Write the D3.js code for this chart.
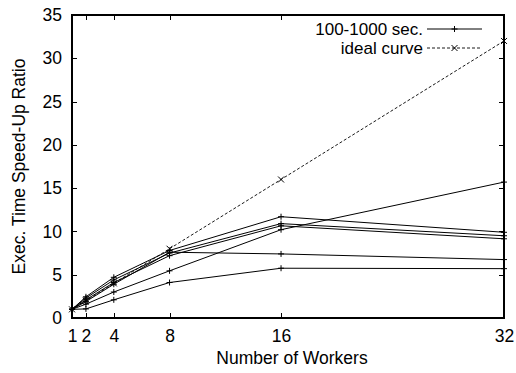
<!DOCTYPE html>
<html>
<head>
<meta charset="utf-8">
<script src="https://cdn.jsdelivr.net/npm/d3@7"></script>
<style>
  html, body { margin: 0; padding: 0; background: #fff; }
  svg { display: block; }
  text { font-family: "Liberation Sans", Arial, Helvetica, sans-serif; fill: #000; }
</style>
</head>
<body>
<svg id="chart" width="516" height="373"></svg>
<script>
// Number of workers on the x axis
const workers = [1, 2, 4, 8, 16, 32];
const xTicks = [1, 2, 4, 8, 16, 32];
const yTicks = [0, 5, 10, 15, 20, 25, 30, 35];

// Measured speed-up ratios, one array per run (100-1000 sec. jobs)
const run1 = [1, 2.45, 4.7, 7.8, 11.7, 9.9];
const run2 = [1, 2.3, 4.4, 7.5, 10.9, 9.5];
const run3 = [1, 2.1, 4.1, 7.2, 10.65, 9.15];
const run4 = [1, 1.9, 3.9, 7.6, 7.4, 6.75];
const run5 = [1, 1.6, 3.0, 5.45, 10.2, 15.7];
const run6 = [1, 1.05, 2.1, 4.1, 5.75, 5.7];
const runs = [run1, run2, run3, run4, run5, run6];

// Ideal (linear) speed-up
const ideal = [1, 2, 4, 8, 16, 32];

const legendLabels = ["100-1000 sec.", "ideal curve"];
const xTitle = "Number of Workers";
const yTitle = "Exec. Time Speed-Up Ratio";

const svg = d3.select("#chart");
const plotLeft = 72, plotRight = 504, plotTop = 15, plotBottom = 318;

const x = d3.scaleLinear().domain([1, 32]).range([plotLeft, plotRight]);
const y = d3.scaleLinear().domain([0, 35]).range([plotBottom, plotTop]);

const fontSize = 17.5;

// Axes with inward ticks (labels on bottom/left, mirrored ticks on top/right)
const gx = svg.append("g").attr("transform", `translate(0,${plotBottom})`)
  .call(d3.axisBottom(x).tickValues(xTicks).tickFormat(d3.format("d")).tickSize(-5).tickPadding(12));
const gy = svg.append("g").attr("transform", `translate(${plotLeft},0)`)
  .call(d3.axisLeft(y).tickValues(yTicks).tickFormat(d3.format("d")).tickSize(-5).tickPadding(10));
const gxt = svg.append("g").attr("transform", `translate(0,${plotTop})`)
  .call(d3.axisTop(x).tickValues(xTicks).tickFormat("").tickSize(-5));
const gyr = svg.append("g").attr("transform", `translate(${plotRight},0)`)
  .call(d3.axisRight(y).tickValues(yTicks).tickFormat("").tickSize(-5));

[gx, gy, gxt, gyr].forEach(g => {
  g.select(".domain").remove();
  g.selectAll(".tick line").attr("stroke", "#000").attr("stroke-width", 1).attr("shape-rendering", "crispEdges");
  g.selectAll(".tick text").attr("font-size", fontSize).attr("font-family", "Liberation Sans, Arial, sans-serif").attr("fill", "#000");
});

// Plot frame
svg.append("rect")
  .attr("x", plotLeft).attr("y", plotTop)
  .attr("width", plotRight - plotLeft).attr("height", plotBottom - plotTop)
  .attr("fill", "none").attr("stroke", "#000").attr("stroke-width", 1.2)
  .attr("shape-rendering", "crispEdges");

const line = d3.line().x((d, i) => x(workers[i])).y(d => y(d));

// Ideal curve: dashed with x markers
svg.append("path").datum(ideal)
  .attr("d", line).attr("fill", "none").attr("stroke", "#000")
  .attr("stroke-width", 0.9).attr("stroke-dasharray", "3,2");

const ms = 3;
function plusMarker(g, cx, cy) {
  g.append("path")
    .attr("d", `M${cx - ms},${cy}H${cx + ms}M${cx},${cy - ms}V${cy + ms}`)
    .attr("stroke", "#000").attr("stroke-width", 1).attr("fill", "none");
}
function crossMarker(g, cx, cy) {
  g.append("path")
    .attr("d", `M${cx - ms},${cy - ms}L${cx + ms},${cy + ms}M${cx - ms},${cy + ms}L${cx + ms},${cy - ms}`)
    .attr("stroke", "#000").attr("stroke-width", 1).attr("fill", "none");
}

const idealMarks = svg.append("g");
ideal.forEach((v, i) => crossMarker(idealMarks, x(workers[i]), y(v)));

// Measured runs: solid with + markers
runs.forEach(r => {
  svg.append("path").datum(r)
    .attr("d", line).attr("fill", "none").attr("stroke", "#000").attr("stroke-width", 1);
  const g = svg.append("g");
  r.forEach((v, i) => plusMarker(g, x(workers[i]), y(v)));
});

// Legend (keys stacked in the top-right corner)
const legX = 423, legY = [29, 48];
const legendFont = 17;
legendLabels.forEach((lab, i) => {
  svg.append("text")
    .attr("x", legX).attr("y", legY[i]).attr("dy", "0.35em")
    .attr("text-anchor", "end").attr("font-size", legendFont).text(lab);
  const ln = svg.append("line")
    .attr("x1", 427).attr("x2", 482).attr("y1", legY[i]).attr("y2", legY[i])
    .attr("stroke", "#000").attr("stroke-width", i === 0 ? 1 : 0.9);
  if (i === 1) ln.attr("stroke-dasharray", "3,2");
  const g = svg.append("g");
  if (i === 0) plusMarker(g, 454.5, legY[i]); else crossMarker(g, 454.5, legY[i]);
});

// Axis titles
svg.append("text")
  .attr("x", 292).attr("y", 364)
  .attr("text-anchor", "middle").attr("font-size", fontSize).text(xTitle);
svg.append("text")
  .attr("transform", `translate(25,${(plotTop + plotBottom) / 2}) rotate(-90)`)
  .attr("text-anchor", "middle").attr("font-size", fontSize).text(yTitle);
</script>
</body>
</html>
